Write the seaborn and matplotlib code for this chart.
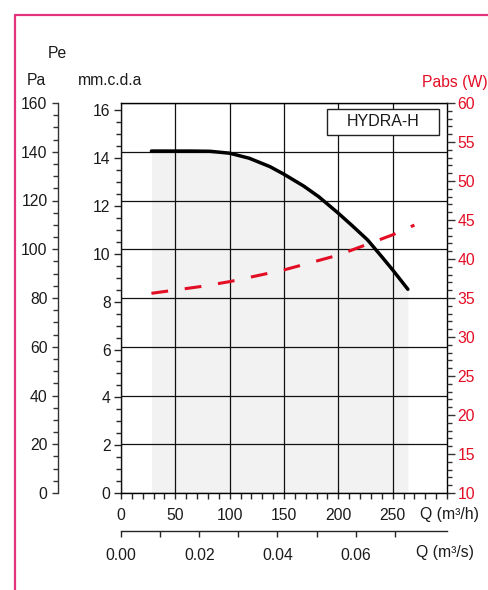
import seaborn as sns
import matplotlib.pyplot as plt
from matplotlib.lines import Line2D
from matplotlib.patches import Rectangle
from matplotlib.ticker import MultipleLocator, FixedLocator, FormatStrFormatter

# ------------------------------------------------------------------------------
# Data
# ------------------------------------------------------------------------------
q_head = [28, 50, 65, 82, 100, 118, 137, 150, 168, 182, 200, 213, 227, 240, 250, 264]  # m3/h
head_mm = [14.3, 14.3, 14.3, 14.29, 14.21, 14.0, 13.65, 13.33, 12.84, 12.39,
           11.7, 11.17, 10.58, 9.88, 9.33, 8.52]
q_power = [28, 75, 100, 150, 200, 250, 270]                            # m3/h
power_w = [35.6, 36.5, 37.1, 38.6, 40.5, 43.1, 44.35]
model_name = "HYDRA-H"

MM_TO_PA = 9.81
head_pa = [h * MM_TO_PA for h in head_mm]

RED = '#e30d24'
PINK = '#e5327d'
TXT = '#1a1a1a'
FS = 11.3

sns.set_style("ticks")
plt.rcParams['font.family'] = ['Liberation Sans', 'DejaVu Sans']
plt.rcParams['font.size'] = FS

W, H = 489, 590
fig = plt.figure(figsize=(W / 100, H / 100), dpi=100)
ax = fig.add_axes([121 / W, 1 - 493 / H, 326 / W, 390 / H])

# shaded operating area and head curve
ax.fill_between(q_head, 0, head_pa, color='#f2f2f2', lw=0, zorder=0.5)
sns.lineplot(x=q_head, y=head_pa, ax=ax, color='black', lw=2.5, zorder=3)

ax.set_xlim(0, 300)
ax.set_ylim(0, 160)
ax.set_xlabel('')
ax.set_ylabel('')

# grid
ax.xaxis.set_major_locator(FixedLocator([0, 50, 100, 150, 200, 250]))
ax.xaxis.set_minor_locator(MultipleLocator(10))
ax.yaxis.set_major_locator(MultipleLocator(20))
ax.yaxis.set_minor_locator(MultipleLocator(5))
ax.grid(True, which='major', color='#111111', lw=0.9)
for s in ax.spines.values():
    s.set_color('black')
    s.set_linewidth(1.0)

# Pa axis pulled out to the left
ax.spines['left'].set_position(('axes', -63 / 326))
ax.spines['left'].set_color('#333333')
ax.tick_params(axis='y', which='major', length=4.5, width=1, direction='out',
               labelsize=FS, labelcolor=TXT, pad=3, color='#333333')
ax.tick_params(axis='y', which='minor', length=3.5, width=1, color='#333333')
ax.tick_params(axis='x', which='major', length=4, width=1, direction='out',
               labelsize=FS, labelcolor=TXT, pad=7)
ax.tick_params(axis='x', which='minor', length=4, width=1)

# mm.c.d.a axis on the plot frame
mm_ax = ax.secondary_yaxis(0, functions=(lambda p: p / MM_TO_PA, lambda m: m * MM_TO_PA))
mm_ax.yaxis.set_major_locator(MultipleLocator(2))
mm_ax.yaxis.set_minor_locator(MultipleLocator(0.5))
mm_ax.tick_params(axis='y', which='major', length=5, width=1, labelsize=FS,
                  labelcolor=TXT, pad=2.5)
mm_ax.tick_params(axis='y', which='minor', length=3.5, width=1)
mm_ax.spines['left'].set_linewidth(1.0)

# m3/s axis below
qs_ax = ax.secondary_xaxis(-38 / 390, functions=(lambda q: q / 3600, lambda s: s * 3600))
qs_ax.xaxis.set_major_locator(FixedLocator([0.0, 0.02, 0.04, 0.06]))
qs_ax.xaxis.set_minor_locator(FixedLocator([0.01, 0.03, 0.05, 0.07]))
qs_ax.xaxis.set_major_formatter(FormatStrFormatter('%.2f'))
qs_ax.tick_params(axis='x', which='both', length=4, width=1, labelsize=FS,
                  labelcolor=TXT, pad=8)
qs_ax.spines['bottom'].set_linewidth(1.0)

# absorbed power on the right
ax2 = ax.twinx()
sns.lineplot(x=q_power, y=power_w, ax=ax2, color=RED, lw=2.2,
             linestyle=(0, (5.5, 5.5)))
ax2.set_ylim(10, 60)
ax2.set_ylabel('')
ax2.yaxis.set_major_locator(MultipleLocator(5))
ax2.yaxis.set_minor_locator(MultipleLocator(1))
ax2.tick_params(axis='y', which='major', length=5.5, width=1, labelsize=FS,
                labelcolor=RED, pad=2, color='#333333')
ax2.tick_params(axis='y', which='minor', length=3.5, width=1, color='#333333')
for s in ax2.spines.values():
    s.set_visible(False)

# model box
ax.add_patch(Rectangle((206 / 326, 1 - 32 / 390), 112 / 326, 26 / 390,
                       transform=ax.transAxes, facecolor='white',
                       edgecolor='#222222', lw=1, zorder=5))
ax.text(262 / 326, 1 - 19 / 390, model_name, transform=ax.transAxes,
        ha='center', va='center', fontsize=11.5, color=TXT, zorder=6)

# axis titles
def ftext(x, y, s, **kw):
    fig.text(x / W, 1 - y / H, s, va='center', fontsize=FS, **kw)

ftext(57, 54, 'Pe', ha='center', color=TXT)
ftext(36, 81, 'Pa', ha='center', color=TXT)
ftext(110, 81, 'mm.c.d.a', ha='center', color=TXT)
ftext(488, 82, 'Pabs (W)', ha='right', color=RED)
ftext(420, 514, 'Q (m³/h)', ha='left', color=TXT)
ftext(416, 553, 'Q (m³/s)', ha='left', color=TXT)

# pink frame
fig.add_artist(Line2D([15 / W, 1], [1 - 15 / H] * 2, color=PINK, lw=1.6))
fig.add_artist(Line2D([15 / W] * 2, [0, 1 - 15 / H], color=PINK, lw=1.6))

fig.savefig('out.png', dpi=100)
